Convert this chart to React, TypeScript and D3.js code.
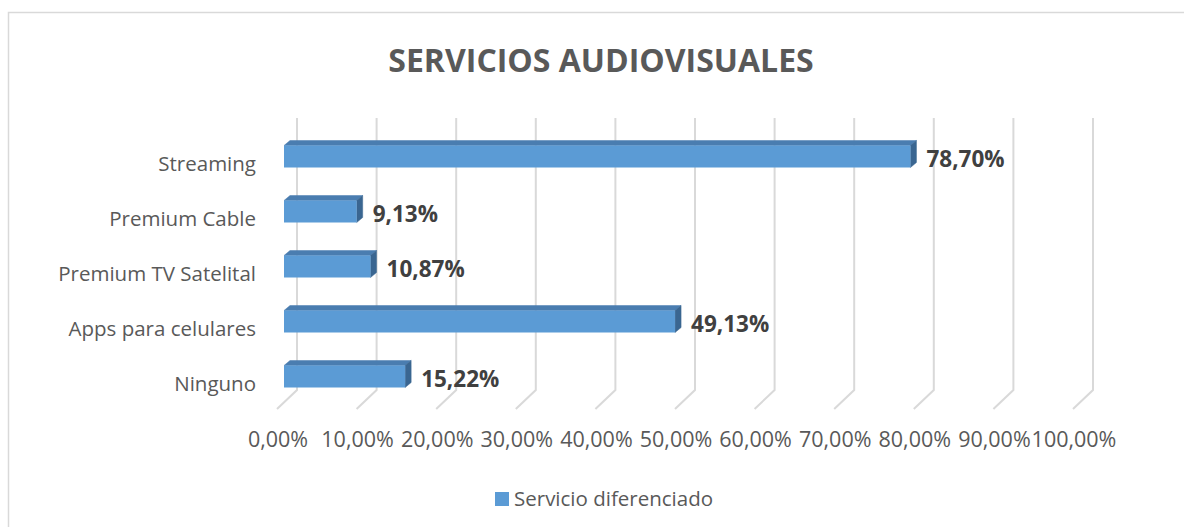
import React from "react";
import * as d3 from "d3";

const categories = ["Streaming", "Premium Cable", "Premium TV Satelital", "Apps para celulares", "Ninguno"];
const values = [0.787, 0.0913, 0.1087, 0.4913, 0.1522];
const valueLabels = ["78,70%", "9,13%", "10,87%", "49,13%", "15,22%"];
const ticks = [0, 0.1, 0.2, 0.3, 0.4, 0.5, 0.6, 0.7, 0.8, 0.9, 1.0];
const tickLabels = ["0,00%", "10,00%", "20,00%", "30,00%", "40,00%", "50,00%", "60,00%", "70,00%", "80,00%", "90,00%", "100,00%"];
const title = "SERVICIOS AUDIOVISUALES";
const seriesName = "Servicio diferenciado";

const W = 1184, H = 527;
const FONT = "'Open Sans', 'Noto Sans', sans-serif";

export default function App() {
  // bar front plane
  const x = d3.scaleLinear().domain([0, 1]).range([284, 1080]);
  const y = d3.scaleBand<string>().domain(categories).range([129, 404]).paddingInner(0.6).paddingOuter(0.3);
  const bw = y.bandwidth();
  const dx = 6, dy = -5; // bar depth
  const backTop = 118, backBottom = 390, frontY = 409;

  return (
    <svg width={W} height={H} style={{ position: "absolute", left: 0, top: 0, display: "block" }}>
      <rect x={0} y={0} width={W} height={H} fill="#fff" />
      <path d={`M8.5,${H} V12.5 H${W}`} fill="none" stroke="#d9d9d9" strokeWidth={1.5} />
      <text x={601} y={72} textAnchor="middle" fontFamily={FONT} fontWeight={700} fontSize={32} fill="#595959">{title}</text>

      {/* gridlines */}
      {ticks.map((t, i) => {
        const bx = x(t) + 13;
        const fx = x(t) - 7;
        return (
          <path key={i} d={`M${bx},${backTop} V${backBottom} L${fx},${frontY}`} fill="none" stroke="#d9d9d9" strokeWidth={2} />
        );
      })}

      {/* bars */}
      {categories.map((c, i) => {
        const x0 = x(0), x1 = x(values[i]);
        const y0 = y(c)!, y1 = y0 + bw;
        const cy = y0 + bw / 2;
        return (
          <g key={c}>
            <path d={`M${x0},${y0} L${x0 + dx},${y0 + dy} L${x1 + dx},${y0 + dy} L${x1},${y0} Z`} fill="#4a7db0" stroke="#4a7db0" strokeWidth={0.5} />
            <path d={`M${x1},${y0} L${x1 + dx},${y0 + dy} L${x1 + dx},${y1 + dy} L${x1},${y1} Z`} fill="#3a6691" stroke="#3a6691" strokeWidth={0.5} />
            <rect x={x0} y={y0} width={x1 - x0} height={bw} fill="#5b9bd5" />
            <text x={x1 + 16} y={cy + 10} fontFamily={FONT} fontWeight={700} fontSize={22.5} fill="#404040">{valueLabels[i]}</text>
            <text x={256} y={cy + 14} textAnchor="end" fontFamily={FONT} fontSize={20.5} fill="#595959">{c}</text>
          </g>
        );
      })}

      {/* tick labels */}
      {ticks.map((t, i) => (
        <text key={i} x={x(t) - 6} y={447} textAnchor="middle" fontFamily={FONT} fontSize={21.5} fill="#595959">{tickLabels[i]}</text>
      ))}

      {/* legend */}
      <rect x={495} y={492} width={14} height={14} fill="#5b9bd5" />
      <text x={514} y={506} fontFamily={FONT} fontSize={20.5} fill="#595959">{seriesName}</text>
    </svg>
  );
}
